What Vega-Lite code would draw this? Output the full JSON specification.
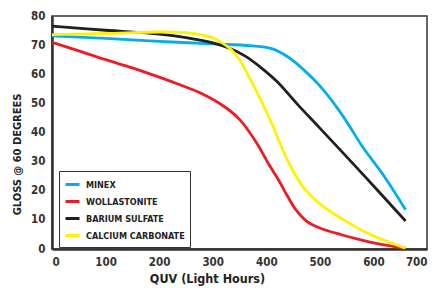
{
  "$schema": "https://vega.github.io/schema/vega-lite/v6.json",
  "width": 375,
  "height": 233,
  "autosize": "none",
  "padding": {"left": 52, "top": 16, "right": 13, "bottom": 51},
  "background": "white",
  "config": {
    "font": "DejaVu Sans Condensed",
    "view": {"stroke": "#333333", "strokeWidth": 1.5}
  },
  "datasets": {
    "rows": [
      {"series": "MINEX", "x": 0, "y": 73.2},
      {"series": "MINEX", "x": 100, "y": 72.3},
      {"series": "MINEX", "x": 200, "y": 71.3},
      {"series": "MINEX", "x": 300, "y": 70.4},
      {"series": "MINEX", "x": 370, "y": 69.8},
      {"series": "MINEX", "x": 410, "y": 68.8},
      {"series": "MINEX", "x": 440, "y": 66},
      {"series": "MINEX", "x": 470, "y": 61.5},
      {"series": "MINEX", "x": 500, "y": 56},
      {"series": "MINEX", "x": 540, "y": 46.5},
      {"series": "MINEX", "x": 580, "y": 35},
      {"series": "MINEX", "x": 620, "y": 25},
      {"series": "MINEX", "x": 660, "y": 13.5},
      {"series": "WOLLASTONITE", "x": 0, "y": 71},
      {"series": "WOLLASTONITE", "x": 50, "y": 68},
      {"series": "WOLLASTONITE", "x": 100, "y": 65},
      {"series": "WOLLASTONITE", "x": 150, "y": 62.2},
      {"series": "WOLLASTONITE", "x": 200, "y": 59},
      {"series": "WOLLASTONITE", "x": 240, "y": 56.3},
      {"series": "WOLLASTONITE", "x": 280, "y": 53.3},
      {"series": "WOLLASTONITE", "x": 320, "y": 49.1},
      {"series": "WOLLASTONITE", "x": 350, "y": 44.5},
      {"series": "WOLLASTONITE", "x": 380, "y": 37},
      {"series": "WOLLASTONITE", "x": 405, "y": 29},
      {"series": "WOLLASTONITE", "x": 425, "y": 23},
      {"series": "WOLLASTONITE", "x": 440, "y": 18},
      {"series": "WOLLASTONITE", "x": 455, "y": 13.5},
      {"series": "WOLLASTONITE", "x": 475, "y": 9.6},
      {"series": "WOLLASTONITE", "x": 500, "y": 7.2},
      {"series": "WOLLASTONITE", "x": 540, "y": 4.9},
      {"series": "WOLLASTONITE", "x": 580, "y": 3},
      {"series": "WOLLASTONITE", "x": 620, "y": 1.4},
      {"series": "WOLLASTONITE", "x": 660, "y": 0.3},
      {"series": "BARIUM SULFATE", "x": 0, "y": 76.5},
      {"series": "BARIUM SULFATE", "x": 100, "y": 75.1},
      {"series": "BARIUM SULFATE", "x": 200, "y": 73.8},
      {"series": "BARIUM SULFATE", "x": 250, "y": 72.6},
      {"series": "BARIUM SULFATE", "x": 300, "y": 70.8},
      {"series": "BARIUM SULFATE", "x": 330, "y": 69},
      {"series": "BARIUM SULFATE", "x": 360, "y": 66.3},
      {"series": "BARIUM SULFATE", "x": 390, "y": 62.3},
      {"series": "BARIUM SULFATE", "x": 420, "y": 57.5},
      {"series": "BARIUM SULFATE", "x": 460, "y": 49.3},
      {"series": "BARIUM SULFATE", "x": 500, "y": 41.5},
      {"series": "BARIUM SULFATE", "x": 580, "y": 25.7},
      {"series": "BARIUM SULFATE", "x": 660, "y": 9.6},
      {"series": "CALCIUM CARBONATE", "x": 0, "y": 73.6},
      {"series": "CALCIUM CARBONATE", "x": 100, "y": 74},
      {"series": "CALCIUM CARBONATE", "x": 200, "y": 74.5},
      {"series": "CALCIUM CARBONATE", "x": 250, "y": 74.3},
      {"series": "CALCIUM CARBONATE", "x": 280, "y": 73.5},
      {"series": "CALCIUM CARBONATE", "x": 300, "y": 72.5},
      {"series": "CALCIUM CARBONATE", "x": 320, "y": 70.5},
      {"series": "CALCIUM CARBONATE", "x": 335, "y": 68.3},
      {"series": "CALCIUM CARBONATE", "x": 350, "y": 65},
      {"series": "CALCIUM CARBONATE", "x": 370, "y": 58.3},
      {"series": "CALCIUM CARBONATE", "x": 390, "y": 51},
      {"series": "CALCIUM CARBONATE", "x": 410, "y": 43.2},
      {"series": "CALCIUM CARBONATE", "x": 425, "y": 36.5},
      {"series": "CALCIUM CARBONATE", "x": 445, "y": 28.5},
      {"series": "CALCIUM CARBONATE", "x": 470, "y": 21},
      {"series": "CALCIUM CARBONATE", "x": 500, "y": 15.5},
      {"series": "CALCIUM CARBONATE", "x": 540, "y": 10.5},
      {"series": "CALCIUM CARBONATE", "x": 580, "y": 6.3},
      {"series": "CALCIUM CARBONATE", "x": 620, "y": 3},
      {"series": "CALCIUM CARBONATE", "x": 660, "y": 0.3}
    ]
  },
  "data": {"name": "rows"},
  "mark": {"type": "line", "strokeWidth": 2.8, "interpolate": "catmull-rom", "clip": true},
  "encoding": {
    "x": {
      "field": "x", "type": "quantitative",
      "scale": {"domain": [0, 700], "nice": false, "zero": true},
      "axis": {
        "title": "QUV (Light Hours)",
        "values": [0, 100, 200, 300, 400, 500, 600, 700],
        "grid": false, "ticks": false,
        "domainColor": "#333333", "domainWidth": 2.5,
        "labelFontSize": 11.5, "labelColor": "#333333", "labelPadding": 7,
        "labelFontWeight": "bold",
        "titleFontSize": 12.5, "titleFontWeight": "bold", "titleColor": "#222222",
        "titlePadding": 5, "titleX": 155, "titleAlign": "center"
      }
    },
    "y": {
      "field": "y", "type": "quantitative",
      "scale": {"domain": [0, 80], "nice": false},
      "axis": {
        "title": "GLOSS @ 60 DEGREES",
        "values": [0, 10, 20, 30, 40, 50, 60, 70, 80],
        "grid": false, "ticks": false,
        "domainColor": "#333333", "domainWidth": 2.5,
        "labelFontSize": 11.5, "labelColor": "#333333", "labelPadding": 7,
        "labelFontWeight": "bold",
        "titleFontSize": 11, "titleFontWeight": "bold", "titleColor": "#222222",
        "titlePadding": 8, "titleY": 138, "titleAnchor": "middle", "titleAlign": "center", "titleAngle": 270
      }
    },
    "color": {
      "field": "series", "type": "nominal",
      "sort": ["MINEX", "WOLLASTONITE", "BARIUM SULFATE", "CALCIUM CARBONATE"],
      "scale": {
        "domain": ["MINEX", "WOLLASTONITE", "BARIUM SULFATE", "CALCIUM CARBONATE"],
        "range": ["#00AEEF", "#ED1C24", "#231F20", "#FFF200"]
      },
      "legend": {
        "title": null,
        "orient": "none",
        "legendX": 7,
        "legendY": 155,
        "symbolType": "stroke",
        "symbolStrokeWidth": 3,
        "symbolSize": 196,
        "labelFontSize": 9,
        "labelFontWeight": "bold",
        "labelColor": "#222222",
        "labelOffset": 5,
        "rowPadding": 2,
        "padding": 5,
        "fillColor": "white",
        "strokeColor": "#333333"
      }
    }
  }
}
